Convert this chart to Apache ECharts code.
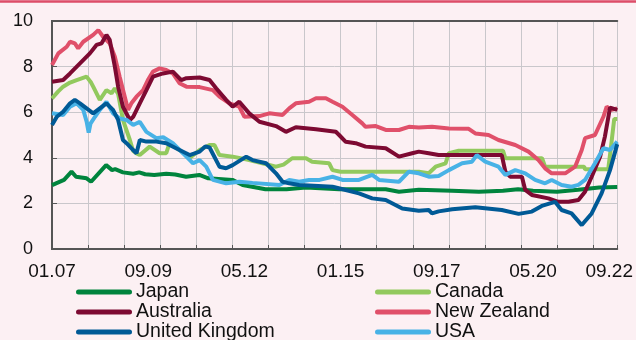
<!DOCTYPE html>
<html>
<head>
<meta charset="utf-8">
<script src="https://cdn.jsdelivr.net/npm/echarts@6/dist/echarts.min.js"></script>
<style>
html, body { margin: 0; padding: 0; background: #fcf0f3; }
#main { width: 636px; height: 340px; }
</style>
</head>
<body>
<div id="main"></div>
<script>
// x = months since Jan 2007, y = percent
var labelMonths = [0, 32, 64, 96, 128, 160, 188];
var tickLabels = ['01.07', '09.09', '05.12', '01.15', '09.17', '05.20', '09.22'];

var japan = [[0,2.8],[4,3.03],[6.5,3.39],[8,3.17],[11.5,3.1],[13,2.95],[18,3.68],[20,3.46],[21,3.5],[23.6,3.36],[27,3.3],[29,3.36],[31,3.28],[34,3.25],[38,3.3],[41,3.27],[44.6,3.17],[49,3.25],[52,3.1],[60,3.03],[63.4,2.81],[71,2.62],[78,2.62],[84.5,2.7],[95.5,2.62],[111,2.62],[115.4,2.51],[122,2.6],[133,2.55],[142,2.51],[150,2.55],[155,2.62],[160,2.55],[168,2.51],[175,2.6],[182,2.7],[188,2.72]];

var canada = [[0,6.6],[2,6.9],[3.7,7.12],[6,7.3],[8.2,7.41],[11.5,7.56],[13,7.3],[13.7,7.12],[15.9,6.54],[18.1,6.97],[19.8,6.83],[20.9,7.05],[22,6.8],[23.6,5.66],[25.9,4.78],[27,4.3],[28,4.2],[29.2,4.12],[32.5,4.49],[35.8,4.2],[38,4.2],[39.1,4.64],[42.4,4.34],[45.8,3.99],[49.1,4.34],[52.4,4.56],[54,4.56],[55.7,4.12],[60.1,4.05],[65.6,3.9],[70,3.76],[74.5,3.61],[77,3.7],[79.9,3.98],[84.5,3.98],[86.5,3.83],[92.2,3.76],[93.3,3.46],[96,3.39],[122,3.39],[125.3,3.32],[127.6,3.61],[130.9,3.76],[132,4.2],[135.3,4.31],[150,4.31],[150.8,3.98],[163,3.98],[164,3.61],[177,3.61],[177.3,3.5],[185,3.5],[185.8,4.34],[187,5.7],[188,5.7]];

var australia = [[0,7.34],[3.7,7.41],[6,7.7],[9.3,8.14],[12.6,8.58],[14.8,8.95],[16.5,9.02],[18.1,9.39],[19.2,9.17],[20.9,8.0],[22,7.12],[23.6,6.24],[25.9,5.66],[27,5.8],[29.2,6.39],[31.4,6.97],[33.6,7.56],[36.9,7.7],[40.2,7.78],[43,7.41],[44.7,7.49],[49.1,7.52],[52.4,7.41],[54.6,7.05],[57.9,6.54],[60.1,6.24],[62.3,6.46],[65.6,5.95],[69,5.58],[74.5,5.39],[77.8,5.14],[81.1,5.34],[87.8,5.25],[94.4,5.14],[95.5,5.0],[97.7,4.7],[101,4.64],[104.3,4.49],[111,4.42],[115.4,4.05],[119.8,4.2],[122,4.27],[125.3,4.2],[128.6,4.12],[149.6,4.12],[150.8,3.39],[152.4,3.17],[156.3,3.17],[157.4,2.59],[159.6,2.37],[165.1,2.22],[168.4,2.07],[171.8,2.07],[175.1,2.15],[177.3,2.51],[179.5,3.17],[182.3,4.05],[183.9,4.93],[185.6,6.2],[188,6.1]];

var newZealand = [[0,8.07],[2.1,8.58],[4.9,8.87],[6,9.09],[7.6,9.02],[8.7,8.8],[10.4,9.09],[13.7,9.39],[15.4,9.6],[17,9.31],[19.2,9.02],[20.9,8.43],[22.5,7.56],[24.2,6.68],[25.3,6.1],[26.4,6.39],[28.1,6.68],[30.3,6.97],[31.9,7.41],[33.6,7.78],[35.8,7.92],[38,7.85],[40.2,7.7],[42.4,7.27],[44.7,7.12],[49.1,7.1],[53.5,6.97],[55.7,6.68],[59,6.39],[62.3,6.24],[64,5.8],[69,5.83],[72.3,5.95],[76.7,5.88],[78.9,6.17],[81.1,6.39],[85.5,6.46],[87.8,6.61],[91.1,6.61],[93.3,6.46],[96.6,6.24],[99.9,5.88],[103.2,5.51],[104.3,5.36],[107.7,5.39],[111,5.22],[115.4,5.22],[118.7,5.36],[122,5.33],[126.4,5.36],[132,5.29],[138.6,5.27],[140.8,5.07],[145.2,5.0],[148.5,4.78],[154.1,4.56],[158.5,4.27],[161.8,3.9],[164,3.54],[166.2,3.32],[170.7,3.32],[174,3.61],[176.2,4.34],[177.3,4.86],[180.6,5.0],[183.4,5.8],[184.5,6.24],[186.1,6.1],[188,6.17]];

var uk = [[0,5.44],[1.6,5.8],[3.7,6.02],[6,6.39],[7.6,6.54],[9.3,6.39],[11.5,6.17],[13.7,5.95],[15.9,6.17],[18.1,6.39],[20.3,6.1],[22,5.66],[23.6,4.78],[24.8,4.64],[27,4.34],[28.1,4.2],[29.2,4.78],[31.4,4.71],[34.7,4.71],[38,4.64],[42.4,4.34],[45.8,4.12],[49.1,4.27],[51,4.5],[52.4,4.45],[55.7,3.61],[57.9,3.54],[60.1,3.68],[64.6,4.05],[66.7,3.9],[71.2,3.76],[74.5,3.32],[76.7,2.95],[78.9,2.88],[82.2,2.81],[93.3,2.73],[97.7,2.59],[102.1,2.44],[106.5,2.22],[111,2.15],[116.5,1.78],[122,1.68],[125.3,1.71],[126.4,1.56],[128.6,1.65],[133.1,1.74],[140.8,1.83],[149.6,1.71],[155.2,1.54],[159.6,1.64],[162.9,1.89],[167.3,2.07],[169.5,1.71],[172.8,1.56],[176.2,1.05],[179.5,1.56],[182.8,2.44],[185.6,3.46],[188,4.6]];

var usa = [[0,5.95],[3.7,5.88],[6,6.24],[8.2,6.39],[10.4,6.1],[11.5,5.6],[12.2,5.1],[12.8,5.5],[14.3,5.8],[15.9,6.1],[18.1,6.46],[20.3,5.95],[22.5,5.73],[24.8,5.66],[27,5.44],[29.2,5.58],[31.4,5.14],[34.7,4.86],[37,4.9],[40.2,4.64],[44.7,4.05],[46.9,3.76],[49.1,3.9],[51.3,3.61],[53.5,3.03],[57.9,2.88],[62.3,2.95],[66.7,2.9],[75.6,2.81],[78.9,3.03],[82.2,2.95],[85.5,3.03],[89,3.03],[93.3,3.17],[96.6,3.03],[102.1,3.03],[106.5,3.25],[108.8,3.03],[115.4,2.95],[118.7,3.39],[122,3.32],[125.3,3.17],[128.6,3.2],[132,3.46],[136.4,3.76],[139.7,3.83],[141.3,4.12],[144.1,3.83],[148.5,3.61],[150.8,3.25],[154.1,3.46],[157.4,3.32],[160.7,3.03],[164,2.88],[166.2,3.03],[169.5,2.81],[172.8,2.73],[175.1,2.81],[177.3,3.03],[180.6,3.76],[183.4,4.42],[185.6,4.34],[188,4.71]];

var font = '"Liberation Sans", Arial, sans-serif';
var pill = 'path://M2.5,0 L53.5,0 A2.5,2.5 0 0 1 53.5,5 L2.5,5 A2.5,2.5 0 0 1 2.5,0 Z';
var frame = { lineStyle: { color: '#555', width: 2 } };

function line(name, data, color) {
    return {
        name: name,
        type: 'line',
        data: data,
        xAxisIndex: 0,
        yAxisIndex: 0,
        symbol: 'none',
        lineStyle: { width: 4, color: color },
        itemStyle: { color: color }
    };
}

var legendBase = {
    orient: 'vertical',
    top: 282,
    height: 80,
    padding: 0,
    itemGap: 0,
    itemWidth: 56,
    itemHeight: 5,
    icon: pill,
    textStyle: { fontFamily: font, fontSize: 19.5, color: '#111', lineHeight: 20, padding: [0, 0, 0, -1] }
};

var chart = echarts.init(document.getElementById('main'));
var option = {
    backgroundColor: '#fcf0f3',
    animation: false,
    graphic: [{
        type: 'line',
        shape: { x1: 0, y1: 1.5, x2: 636, y2: 1.5 },
        style: { stroke: '#dd4d68', lineWidth: 2.5 }
    }],
    grid: { left: 52, right: 17, top: 21, bottom: 91 },
    legend: [
        Object.assign({}, legendBase, { left: 76, data: ['Japan', 'Australia', 'United Kingdom'] }),
        Object.assign({}, legendBase, { left: 375, data: ['Canada', 'New Zealand', 'USA'] })
    ],
    xAxis: [{
        type: 'value', min: 0, max: 188, interval: 12,
        axisLine: frame,
        axisTick: { inside: true, length: 4, lineStyle: { color: '#555' } },
        axisLabel: { show: false },
        splitLine: { lineStyle: { color: '#c9c7cb', width: 1 } }
    }, {
        type: 'value', min: 0, max: 188, interval: 32, position: 'bottom',
        axisLine: { show: false },
        axisTick: { show: false },
        splitLine: { show: false },
        axisLabel: {
            margin: 13,
            fontFamily: font, fontSize: 19, color: '#111',
            formatter: function (v) {
                var i = labelMonths.indexOf(v);
                if (i < 0) return '';
                if (i === tickLabels.length - 1) return '{last|' + tickLabels[i] + '}';
                return tickLabels[i];
            },
            rich: { last: { fontFamily: font, fontSize: 19, color: '#111', padding: [0, 16, 0, 0] } }
        }
    }, {
        // top edge of the frame
        type: 'value', min: 0, max: 188, position: 'top',
        axisLine: frame, axisTick: { show: false }, axisLabel: { show: false }, splitLine: { show: false }
    }],
    yAxis: [{
        type: 'value', min: 0, max: 10, interval: 2,
        axisLine: Object.assign({ show: true }, frame),
        axisTick: { show: true, inside: true, length: 5, lineStyle: { color: '#555' } },
        axisLabel: { margin: 19, fontFamily: font, fontSize: 18, color: '#111' },
        splitLine: { lineStyle: { color: '#c9c7cb', width: 1 } }
    }, {
        // right edge of the frame
        type: 'value', min: 0, max: 10, position: 'right',
        axisLine: Object.assign({ show: true }, frame),
        axisTick: { show: false }, axisLabel: { show: false }, splitLine: { show: false }
    }],
    series: [
        line('Japan', japan, '#00843d'),
        line('Canada', canada, '#92c95e'),
        line('New Zealand', newZealand, '#e0506a'),
        line('Australia', australia, '#7d0a32'),
        line('USA', usa, '#48b2e6'),
        line('United Kingdom', uk, '#005a96')
    ]
};
chart.setOption(option);
</script>
</body>
</html>
